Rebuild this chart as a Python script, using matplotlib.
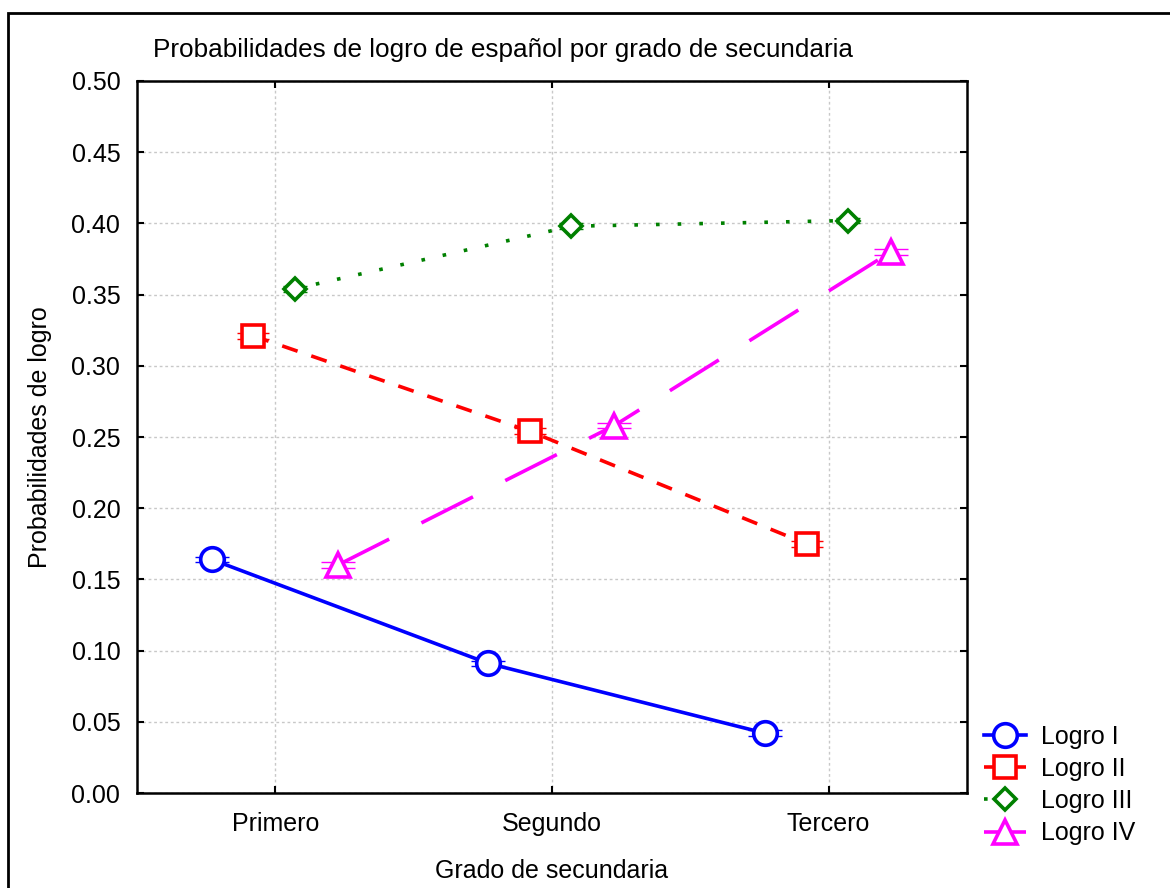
import matplotlib.pyplot as plt
import matplotlib.patches as mpatches
import numpy as np

# data
grados = ["Primero", "Segundo", "Tercero"]
logro_1 = [0.164, 0.091, 0.042]
logro_2 = [0.321, 0.254, 0.175]
logro_3 = [0.354, 0.398, 0.402]
logro_4 = [0.160, 0.258, 0.380]
nombres = ["Logro I", "Logro II", "Logro III", "Logro IV"]

plt.rcParams['font.family'] = ['Liberation Sans', 'DejaVu Sans']

fig = plt.figure(figsize=(11.7, 8.88), dpi=100)
ax = fig.add_axes([137 / 1170, 95 / 888, 830 / 1170, 712 / 888])

# frame around the whole figure (cut off at right and bottom like the original)
fig.patches.append(mpatches.Rectangle((8 / 1170, -0.1), 1.2, 1 - 13 / 888 + 0.1,
                                      transform=fig.transFigure, fill=False,
                                      edgecolor="black", linewidth=2))

x = np.arange(1, len(grados) + 1)
estilos = [
    dict(color="#0000ff", marker="o", markersize=17, dashes=None, off=-0.23),
    dict(color="#ff0000", marker="s", markersize=16, dashes=(4.5, 4), off=-0.08),
    dict(color="#008000", marker="D", markersize=11, dashes=(1, 5), off=0.07),
    dict(color="#ff00ff", marker="^", markersize=17, dashes=(16, 10), off=0.225),
]
series = [logro_1, logro_2, logro_3, logro_4]

handles = []
for vals, st, nom in zip(series, estilos, nombres):
    xs = x + st["off"]
    line, = ax.plot(xs, vals, color=st["color"], linestyle="-",
                    linewidth=2.6, marker=st["marker"], markersize=st["markersize"],
                    markerfacecolor="white", markeredgecolor=st["color"],
                    markeredgewidth=2.6, label=nom, zorder=3)
    if st["dashes"] is not None:
        line.set_dashes(st["dashes"])
    ax.errorbar(xs, vals, yerr=0.002, fmt="none", ecolor=st["color"],
                elinewidth=1, capsize=st["markersize"] * 0.6 + 2, capthick=1, zorder=2)
    handles.append(line)

ax.set_xlim(0.5, 3.5)
ax.set_ylim(0, 0.5)
ax.set_xticks(x)
ax.set_xticklabels(grados)
ax.set_yticks(np.arange(0, 0.51, 0.05))
ax.set_yticklabels([f"{v:.2f}" for v in np.arange(0, 0.51, 0.05)])
ax.tick_params(direction="in", top=True, right=True, labelsize=18, length=5, width=1.5)
ax.tick_params(axis="y", pad=12)
ax.tick_params(axis="x", pad=14)
ax.grid(True, color="#c8c8c8", linestyle=(0, (2, 2)), linewidth=1)
for s in ax.spines.values():
    s.set_linewidth(1.8)

ax.set_xlabel("Grado de secundaria", fontsize=18, labelpad=16)
ax.set_ylabel("Probabilidades de logro", fontsize=18, labelpad=14)
fig.text(153 / 1170, 1 - 50 / 888, "Probabilidades de logro de español por grado de secundaria",
         fontsize=18.8, ha="left", va="center")

fig.legend(handles=handles, labels=nombres, loc="upper left",
           bbox_to_anchor=(971 / 1170, 1 - 712 / 888), frameon=False,
           fontsize=18, handlelength=1.7, handletextpad=0.6, labelspacing=0.33,
           borderpad=0)

fig.savefig("out.png", dpi=100)
